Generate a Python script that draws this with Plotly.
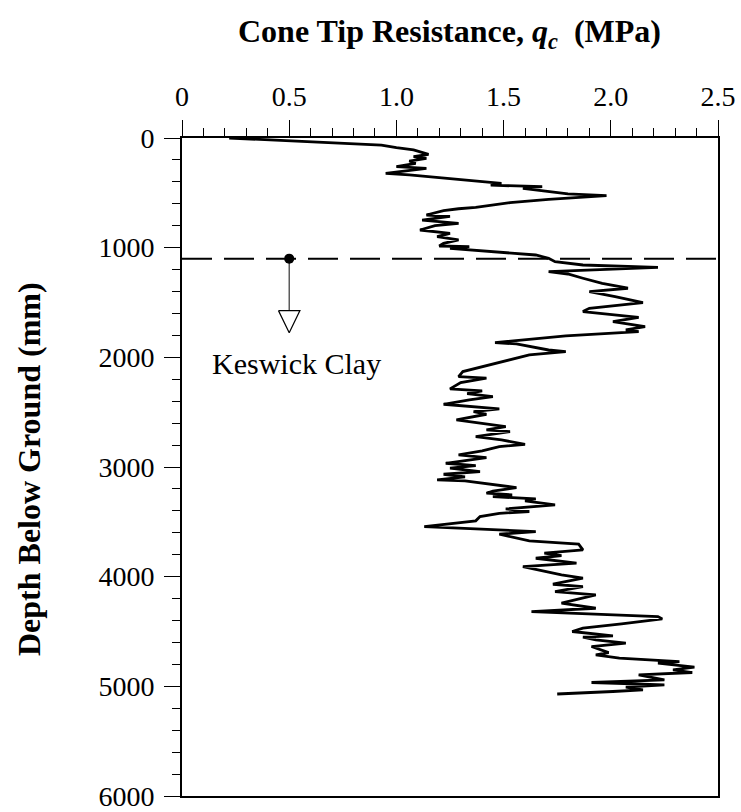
import plotly.graph_objects as go

# Cone tip resistance profile (depth mm, qc MPa)
depth_mm = [0, 20, 43, 64, 88, 109, 149, 170, 185, 210, 231, 261, 277, 301, 322, 337, 368,
            413, 430, 444, 459, 489, 510, 525, 541, 559, 590, 632, 645, 663, 702, 715, 748,
            778, 800, 839, 869, 900, 930, 960, 985, 990, 1006, 1051, 1067, 1097, 1128, 1158,
            1179, 1219, 1240, 1279, 1325, 1370, 1401, 1447, 1501, 1553, 1583, 1635, 1674,
            1720, 1750, 1766, 1805, 1866, 1878, 1933, 1948, 1978, 2039, 2085, 2130, 2176,
            2190, 2230, 2288, 2306, 2330, 2358, 2388, 2428, 2470, 2495, 2519, 2571, 2601,
            2632, 2662, 2677, 2723, 2753, 2793, 2814, 2853, 2890, 2914, 2966, 2987, 3011,
            3042, 3066, 3090, 3118, 3127, 3163, 3188, 3220, 3239, 3254, 3270, 3291, 3309,
            3346, 3382, 3406, 3422, 3452, 3491, 3543, 3567, 3575, 3589, 3613, 3674, 3704,
            3756, 3786, 3808, 3832, 3877, 3908, 3953, 3984, 4014, 4069, 4090, 4136, 4166,
            4242, 4288, 4318, 4364, 4385, 4430, 4440, 4470, 4500, 4540, 4552, 4576, 4607,
            4637, 4692, 4713, 4743, 4759, 4774, 4789, 4825, 4850, 4874, 4895, 4941, 4965,
            4987, 5008, 5032, 5047, 5070, 5078]
qc_mpa = [0.22, 0.45, 0.65, 0.93, 1.00, 1.08, 1.15, 1.08, 1.14, 1.06, 1.09, 1.00, 1.14, 1.05,
          0.95, 1.06, 1.23, 1.49, 1.44, 1.68, 1.59, 1.71, 1.80, 1.98, 1.85, 1.71, 1.53, 1.37,
          1.29, 1.22, 1.14, 1.25, 1.12, 1.29, 1.18, 1.11, 1.25, 1.19, 1.29, 1.22, 1.20, 1.34,
          1.25, 1.53, 1.65, 1.71, 1.74, 1.87, 2.22, 1.71, 1.80, 1.87, 1.96, 2.08, 1.90, 2.02,
          2.15, 1.90, 1.87, 2.13, 2.01, 2.16, 2.07, 2.13, 1.79, 1.46, 1.56, 1.71, 1.79, 1.62,
          1.49, 1.40, 1.31, 1.29, 1.42, 1.30, 1.25, 1.40, 1.33, 1.45, 1.34, 1.22, 1.48, 1.36,
          1.42, 1.28, 1.39, 1.51, 1.42, 1.53, 1.37, 1.49, 1.60, 1.48, 1.40, 1.29, 1.42, 1.23,
          1.37, 1.25, 1.39, 1.22, 1.32, 1.19, 1.32, 1.45, 1.56, 1.45, 1.42, 1.54, 1.45, 1.65,
          1.60, 1.74, 1.51, 1.62, 1.48, 1.39, 1.37, 1.13, 1.40, 1.49, 1.65, 1.48, 1.62, 1.85,
          1.87, 1.69, 1.77, 1.65, 1.84, 1.59, 1.70, 1.77, 1.87, 1.73, 1.87, 1.74, 1.93, 1.77,
          1.93, 1.63, 2.22, 2.24, 2.05, 2.01, 1.87, 1.82, 2.01, 1.87, 1.93, 2.07, 1.91, 1.99,
          1.93, 2.04, 2.19, 2.32, 2.22, 2.39, 2.29, 2.38, 2.13, 2.25, 1.91, 2.25, 2.07, 2.15,
          2.01, 1.75]

# Layer boundary (Keswick Clay) marker
boundary_depth = 1100
marker_q = 0.5
arrow_tip_depth = [1574, 1775]
triangle_half_width = 0.05
label_text = "Keswick Clay"
label_pos = (0.535, 2060)

x_tickvals = [0, 0.5, 1.0, 1.5, 2.0, 2.5]
x_ticktext = ["0", "0.5", "1.0", "1.5", "2.0", "2.5"]
y_tickvals = [0, 1000, 2000, 3000, 4000, 5000, 6000]
y_ticktext = ["0", "1000", "2000", "3000", "4000", "5000", "6000"]

FONT = "Liberation Serif, Times New Roman, serif"
W, H = 741, 812
ML, MR, MT, MB = 182, 23, 138, 16
PW, PH = W - ML - MR, H - MT - MB
TICK_SIZE = 28

fig = go.Figure()

# boundary dashed line
fig.add_trace(go.Scatter(x=[0, 2.5], y=[boundary_depth, boundary_depth], mode="lines",
                         line=dict(color="black", width=2, dash="30px,12px"),
                         hoverinfo="skip", showlegend=False))

# profile
fig.add_trace(go.Scatter(x=qc_mpa, y=depth_mm, mode="lines",
                         line=dict(color="black", width=2.8),
                         showlegend=False))

# arrow stem
fig.add_trace(go.Scatter(x=[marker_q, marker_q], y=[boundary_depth, arrow_tip_depth[0]],
                         mode="lines", line=dict(color="#333", width=1.2),
                         hoverinfo="skip", showlegend=False))
# open triangle head
fig.add_trace(go.Scatter(
    x=[marker_q - triangle_half_width, marker_q + triangle_half_width, marker_q,
       marker_q - triangle_half_width],
    y=[arrow_tip_depth[0], arrow_tip_depth[0], arrow_tip_depth[1], arrow_tip_depth[0]],
    mode="lines", line=dict(color="black", width=1.2), fill="toself", fillcolor="white",
    hoverinfo="skip", showlegend=False))
# dot
fig.add_trace(go.Scatter(x=[marker_q], y=[boundary_depth], mode="markers",
                         marker=dict(color="black", size=10),
                         hoverinfo="skip", showlegend=False))

fig.add_annotation(x=label_pos[0], y=label_pos[1], text=label_text, showarrow=False,
                   font=dict(family=FONT, size=30, color="black"),
                   xanchor="center", yanchor="middle")

# x axis title (top)
fig.add_annotation(x=(449 - ML) / PW, xref="paper", y=1 + (MT - 33) / PH, yref="paper",
                   text="<b>Cone Tip Resistance, <i>q<sub>c</sub></i>  (MPa)</b>",
                   showarrow=False, yanchor="middle", xanchor="center",
                   font=dict(family=FONT, size=32, color="black"))
# y axis title
fig.add_annotation(x=(29 - ML) / PW, xref="paper", y=1 - (469 - MT) / PH, yref="paper",
                   text="<b>Depth Below Ground (mm)</b>", textangle=-90,
                   showarrow=False, yanchor="middle", xanchor="center",
                   font=dict(family=FONT, size=32, color="black"))

fig.update_layout(
    width=W, height=H,
    margin=dict(l=ML, r=MR, t=MT, b=MB, autoexpand=False),
    paper_bgcolor="white", plot_bgcolor="white",
    font=dict(family=FONT, size=TICK_SIZE, color="black"),
    xaxis=dict(side="top", range=[0, 2.5], tickvals=x_tickvals, ticktext=x_ticktext,
               ticks="outside", ticklen=16, tickwidth=1.2, tickcolor="black",
               showline=True, linewidth=2, linecolor="black", mirror=True,
               showgrid=False, zeroline=False, ticklabelstandoff=3,
               ticklabeloverflow="allow", automargin=False,
               minor=dict(dtick=0.1, ticks="outside", ticklen=8, tickwidth=1.2,
                          tickcolor="black", showgrid=False),
               tickfont=dict(family=FONT, size=TICK_SIZE)),
    yaxis=dict(range=[6000, 0], tickvals=y_tickvals, ticktext=y_ticktext,
               ticks="outside", ticklen=16, tickwidth=1.2, tickcolor="black",
               showline=True, linewidth=2, linecolor="black", mirror=True,
               showgrid=False, zeroline=False, ticklabelstandoff=4,
               ticklabeloverflow="allow", automargin=False,
               minor=dict(dtick=200, ticks="outside", ticklen=8, tickwidth=1.2,
                          tickcolor="black", showgrid=False),
               tickfont=dict(family=FONT, size=TICK_SIZE)),
)

fig.write_html("out.html")
